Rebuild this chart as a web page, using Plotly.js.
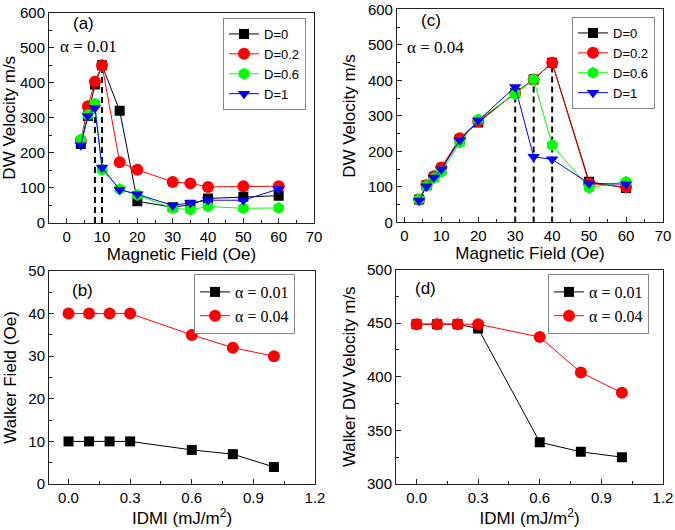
<!DOCTYPE html>
<html>
<head>
<meta charset="utf-8">
<script src="https://cdn.plot.ly/plotly-3.0.1.min.js"></script>
<style>html,body{margin:0;padding:0;background:#fff;}#chart{width:675px;height:530px;}</style>
</head>
<body>
<div id="chart"></div>
<script>
// ---------- data ----------
const fieldA = [4, 6, 8, 10, 15, 20, 30, 35, 40, 50, 60];
const a_D0   = [225, 305, 395, 450, 320, 62, 45, 52, 70, 75, 78];
const a_D02  = [235, 333, 403, 450, 173, 152, 117, 113, 103, 105, 105];
const a_D06  = [238, 308, 340, 152, 97, 80, 42, 38, 47, 42, 43];
const a_D1   = [222, 305, 328, 158, 95, 82, 50, 57, 65, 65, 97];
const walkerFieldA = [8, 10];
const walkerVelA   = [335, 450];

const fieldC = [4, 6, 8, 10, 15, 20, 30, 35, 40, 50, 60];
const c_D0   = [65, 105, 128, 150, 235, 282, 365, 403, 450, 115, 97];
const c_D02  = [65, 105, 130, 155, 237, 285, 365, 403, 450, 110, 100];
const c_D06  = [65, 103, 125, 143, 225, 290, 362, 403, 218, 98, 115];
const c_D1   = [62, 102, 127, 150, 232, 287, 382, 185, 178, 110, 108];
const walkerFieldC = [30, 35, 40];
const walkerVelC   = [380, 403, 450];

const idmi = [0, 0.1, 0.2, 0.3, 0.6, 0.8, 1.0];
const hw_a001 = [10, 10, 10, 10, 8, 7, 4];
const hw_a004 = [40, 40, 40, 40, 35, 32, 30];
const vw_a001 = [449, 449, 449, 445, 339, 330, 325];
const vw_a004 = [449, 449, 449, 449, 437, 404, 385];

const seriesNames = ['D=0', 'D=0.2', 'D=0.6', 'D=1'];
const alphaNames = ['\u03b1 = 0.01', '\u03b1 = 0.04'];

// ---------- styles ----------
const SANS = 'Liberation Sans, Arial, sans-serif';
const SERIF = 'Liberation Serif, Times New Roman, serif';
const colors = ['#000000', '#ff0000', '#00ff00', '#0000ff'];
const symbols = ['square', 'circle', 'hexagon', 'triangle-down'];
const sizes = [10, 12, 12, 11];

function dashedLines(xs, ys, xa, ya) {
  const x = [], y = [];
  xs.forEach((v, i) => { x.push(v, v, null); y.push(0, ys[i], null); });
  return {x, y, xaxis: xa, yaxis: ya, mode: 'lines', showlegend: false, hoverinfo: 'skip',
          line: {color: '#000', width: 2, dash: '6px,4px'}};
}

function series(x, y, k, xa, ya, name, legend) {
  return {x, y, xaxis: xa, yaxis: ya, name, legend, mode: 'lines+markers',
          line: {color: colors[k], width: 1},
          marker: {symbol: symbols[k], size: sizes[k], color: colors[k], line: {width: 0}}};
}

const traces = [];
traces.push(dashedLines(walkerFieldA, walkerVelA, 'x', 'y'));
[a_D0, a_D02, a_D06, a_D1].forEach((ys, k) => traces.push(series(fieldA, ys, k, 'x', 'y', seriesNames[k], 'legend')));
traces.push(dashedLines(walkerFieldC, walkerVelC, 'x2', 'y2'));
[c_D0, c_D02, c_D06, c_D1].forEach((ys, k) => traces.push(series(fieldC, ys, k, 'x2', 'y2', seriesNames[k], 'legend2')));
traces.push(series(idmi, hw_a001, 0, 'x3', 'y3', alphaNames[0], 'legend3'));
traces.push(series(idmi, hw_a004, 1, 'x3', 'y3', alphaNames[1], 'legend3'));
traces.push(series(idmi, vw_a001, 0, 'x4', 'y4', alphaNames[0], 'legend4'));
traces.push(series(idmi, vw_a004, 1, 'x4', 'y4', alphaNames[1], 'legend4'));

function axis(extra) {
  return Object.assign({
    showline: true, mirror: true, linecolor: '#222', linewidth: 1,
    ticks: 'inside', ticklen: 5, tickwidth: 1, tickcolor: '#222',
    showgrid: false, zeroline: false, automargin: false,
    tickfont: {family: SANS, size: 15, color: '#000'},
  }, extra);
}
function xt(text) { return {text, font: {family: SANS, size: 17, color: '#000'}, standoff: 2}; }
function yt(text) { return {text, font: {family: SANS, size: 17, color: '#000'}, standoff: 7}; }
const minorX = d => ({dtick: d, ticks: 'inside', ticklen: 3, tickcolor: '#222', showgrid: false});

function legendAt(x, y, font) {
  return {x, y, xanchor: 'left', yanchor: 'top', bgcolor: '#fff', bordercolor: '#888', borderwidth: 1,
          font, tracegroupgap: 0, itemsizing: 'trace'};
}

const layout = {
  width: 675, height: 530,
  margin: {l: 0, r: 0, t: 0, b: 0},
  paper_bgcolor: '#fff', plot_bgcolor: '#fff',
  xaxis: axis({domain: [0.0726, 0.4652], range: [-5, 70], dtick: 10, minor: minorX(5), anchor: 'y', title: xt('Magnetic Field (Oe)')}),
  yaxis: axis({domain: [0.5792, 0.9764], range: [0, 600], dtick: 100, minor: minorX(50), anchor: 'x', title: yt('DW Velocity m/s')}),
  xaxis2: axis({domain: [0.5881, 0.9822], range: [-2, 70], dtick: 10, minor: minorX(5), anchor: 'y2', title: xt('Magnetic Field (Oe)')}),
  yaxis2: axis({domain: [0.5802, 0.9821], range: [0, 600], dtick: 100, minor: minorX(50), anchor: 'x2', title: yt('DW Velocity m/s')}),
  xaxis3: axis({domain: [0.0726, 0.4667], range: [-0.095, 1.2], tick0: 0, dtick: 0.3, tickformat: '.1f', minor: minorX(0.15), anchor: 'y3', title: xt('IDMI (mJ/m<sup>2</sup>)')}),
  yaxis3: axis({domain: [0.0868, 0.4887], range: [0, 50], dtick: 10, minor: minorX(5), anchor: 'x3', title: yt('Walker Field (Oe)')}),
  xaxis4: axis({domain: [0.5867, 0.9822], range: [-0.1, 1.2], tick0: 0, dtick: 0.3, tickformat: '.1f', minor: minorX(0.15), anchor: 'y4', title: xt('IDMI (mJ/m<sup>2</sup>)')}),
  yaxis4: axis({domain: [0.0868, 0.4915], range: [300, 500], dtick: 50, minor: minorX(25), anchor: 'x4', title: yt('Walker DW Velocity m/s')}),
  legend: legendAt(223/675, 1 - 18/530, {family: SANS, size: 13, color: '#000'}),
  legend2: legendAt(572/675, 1 - 17/530, {family: SANS, size: 13, color: '#000'}),
  legend3: legendAt(194/675, 1 - 274/530, {family: SERIF, size: 16, color: '#000'}),
  legend4: legendAt(548/675, 1 - 274/530, {family: SERIF, size: 16, color: '#000'}),
  annotations: [
    {text: '(a)', x: 83/675, y: 1 - 24/530},
    {text: '(c)', x: 431/675, y: 1 - 21/530},
    {text: '(b)', x: 82/675, y: 1 - 290/530},
    {text: '(d)', x: 426/675, y: 1 - 288/530},
  ].map(a => Object.assign(a, {xref: 'paper', yref: 'paper', showarrow: false, xanchor: 'center', yanchor: 'middle',
        font: {family: SANS, size: 17, color: '#000'}})).concat([
    {text: '\u03b1 = 0.01', x: 58/675, y: 1 - 47/530},
    {text: '\u03b1 = 0.04', x: 405/675, y: 1 - 48/530},
  ].map(a => Object.assign(a, {xref: 'paper', yref: 'paper', showarrow: false, xanchor: 'left', yanchor: 'middle',
        font: {family: SERIF, size: 17, color: '#000'}})))
};

Plotly.newPlot('chart', traces, layout, {displayModeBar: false, staticPlot: true});
</script>
</body>
</html>
